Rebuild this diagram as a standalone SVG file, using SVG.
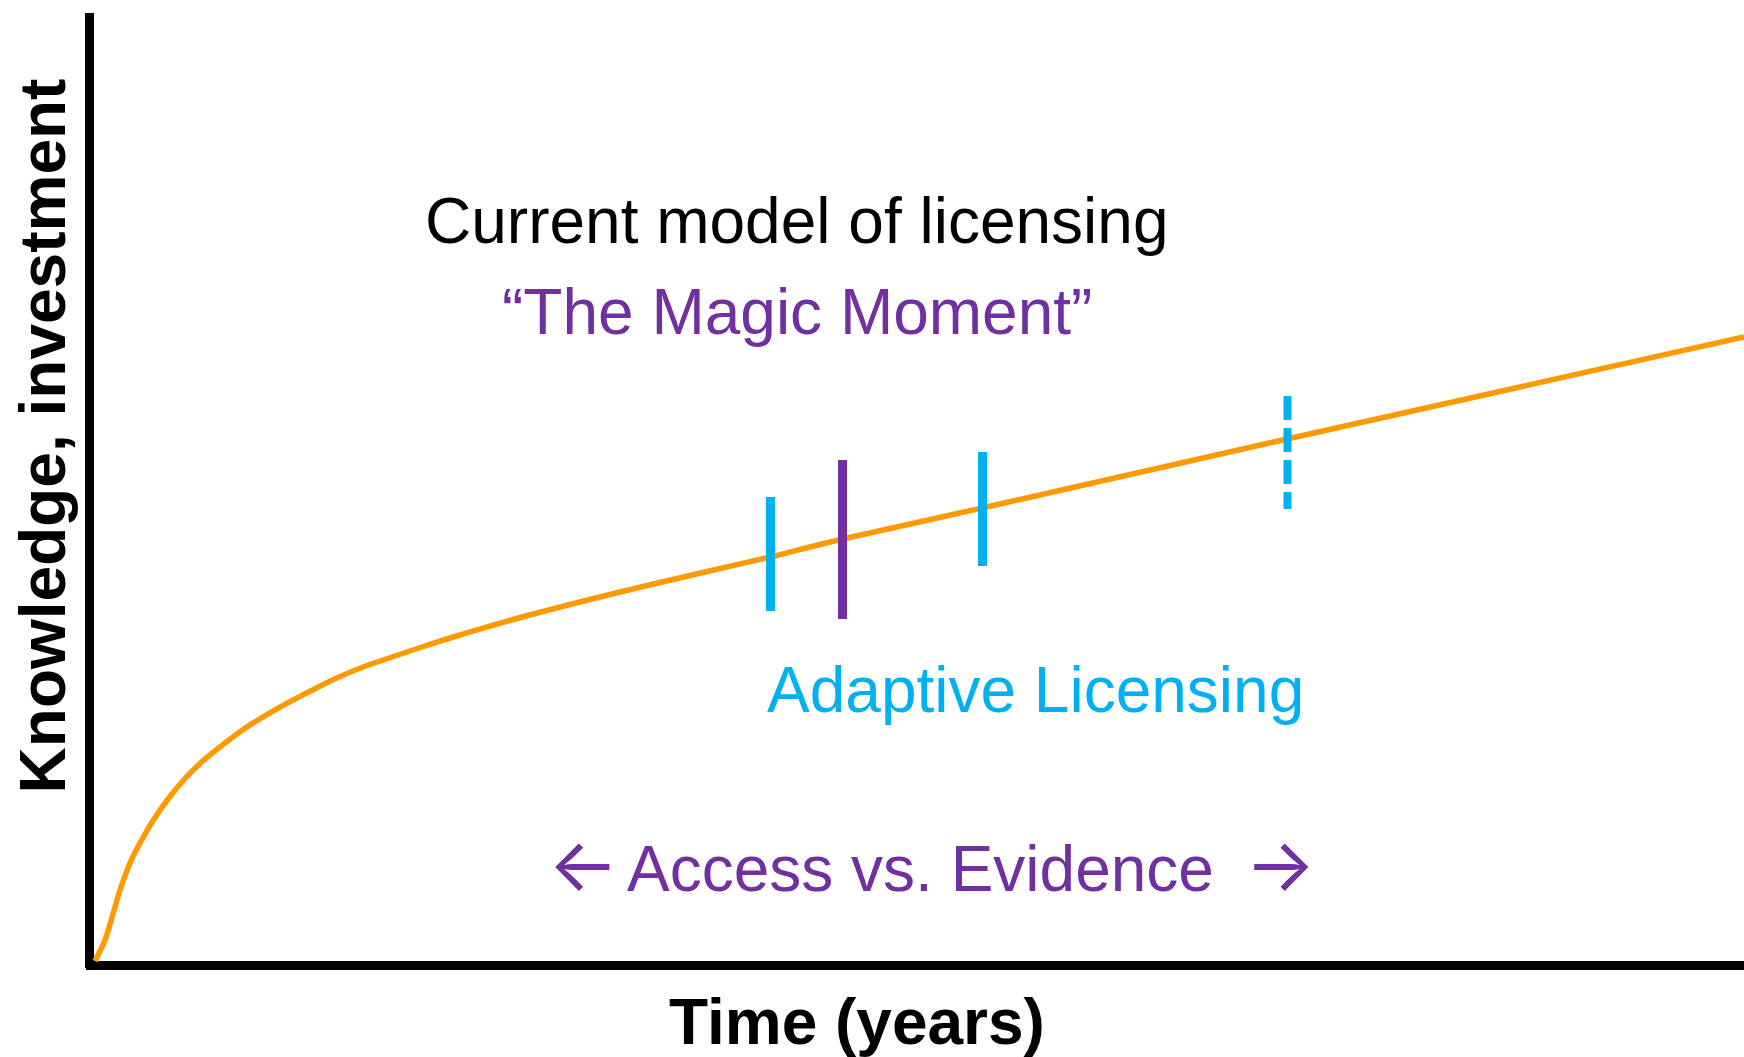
<svg xmlns="http://www.w3.org/2000/svg" width="1744" height="1057" viewBox="0 0 1744 1057">
  <style>
    .lbl { font-family: "Liberation Sans", Arial, Helvetica, sans-serif; font-size: 64px; }
    .arrow { font-family: Inter, "Liberation Sans", sans-serif; font-size: 74px; }
    .bold { font-weight: bold; fill: #000000; }
    .black { fill: #000000; }
    .purple { fill: #7030A0; }
    .cyan { fill: #00B0F0; }
    .axis { stroke: #000000; stroke-width: 9; fill: none; }
    .curve { stroke: #FF9900; stroke-width: 5.5; fill: none; stroke-linecap: butt; stroke-linejoin: round; }
    .tick-cyan { stroke: #00B0F0; stroke-width: 9; }
    .tick-purple { stroke: #7030A0; stroke-width: 9; }
    .tick-dash { stroke: #00B0F0; stroke-width: 8; stroke-dasharray: 24 8; }
  </style>

  <rect x="0" y="0" width="1744" height="1057" fill="#FFFFFF"/>

  <!-- axes -->
  <g id="axes">
    <line class="axis" x1="89.5" y1="13" x2="89.5" y2="968"/>
    <line class="axis" x1="86" y1="965.5" x2="1744" y2="965.5"/>
  </g>

  <!-- knowledge / investment growth curve -->
  <g id="curve">
    <path class="curve" d="M95,961
      C96.7,957.5 102,947.8 105,940
      C108,932.2 110.5,922.3 113,914
      C115.5,905.7 117.2,898.5 120,890
      C122.8,881.5 126.7,870.8 130,863
      C133.3,855.2 135.8,850.6 140,843
      C144.2,835.4 150,825.3 155,817.5
      C160,809.8 165,803 170,796.5
      C175,790 180,784 185,778.5
      C190,773 195,768.1 200,763.5
      C205,758.9 209.7,755.1 215,750.8
      C220.3,746.5 226.2,742 232,737.7
      C237.8,733.4 243.7,729 250,724.9
      C256.3,720.8 263.3,716.8 270,712.9
      C276.7,709 282.7,705.7 290,701.7
      C297.3,697.7 305.8,693.3 314,689.2
      C322.2,685.1 330.5,680.8 339,677
      C347.5,673.2 356.2,669.6 365,666.3
      C373.8,663 382,660.4 392,657
      C402,653.6 413.7,649.7 425,646
      C436.3,642.3 443.2,640 460,635
      C476.8,630 500,623 526,616
      C552,609 586.2,600.3 616,593
      C645.8,585.7 679.3,578 705,572
      C730.7,566 747,562.5 770,557
      C793,551.5 807.7,547.2 843,539
      C878.3,530.8 908,524.7 982,508
      C1056,491.3 1160,467.5 1287,439
      C1414,410.5 1667.8,354 1744,337"/>
  </g>

  <!-- licensing milestones on the curve -->
  <g id="milestones">
    <line id="adaptive-1" class="tick-cyan" x1="770.5" y1="497" x2="770.5" y2="611"/>
    <line id="magic-moment" class="tick-purple" x1="842.5" y1="460" x2="842.5" y2="619"/>
    <line id="adaptive-2" class="tick-cyan" x1="982.5" y1="452" x2="982.5" y2="566"/>
    <line id="adaptive-future" class="tick-dash" x1="1287.5" y1="396" x2="1287.5" y2="509"/>
  </g>

  <!-- labels -->
  <g id="label-y-axis">
    <text class="lbl bold" text-anchor="middle" transform="translate(65,436) rotate(-90)">Knowledge, investment</text>
  </g>
  <g id="label-x-axis">
    <text class="lbl bold" x="669" y="1044">Time (years)</text>
  </g>
  <g id="label-current-model">
    <text class="lbl black" x="425" y="243">Current model of licensing</text>
  </g>
  <g id="label-magic-moment">
    <text class="lbl purple" x="502" y="334">“The Magic Moment”</text>
  </g>
  <g id="label-adaptive">
    <text class="lbl cyan" x="767" y="712">Adaptive Licensing</text>
  </g>
  <g id="label-access-evidence">
    <text class="arrow purple" x="548" y="891">←</text>
    <text class="lbl purple" x="627" y="891">Access vs. Evidence</text>
    <text class="arrow purple" x="1245" y="891">→</text>
  </g>
</svg>
